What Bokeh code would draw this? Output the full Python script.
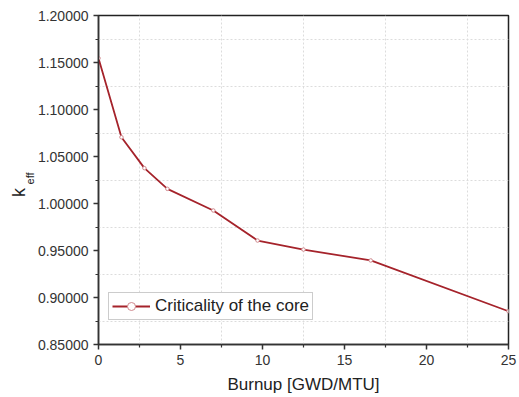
from bokeh.plotting import figure
from bokeh.models import (FixedTicker, PrintfTickFormatter, Legend, LegendItem,
                          Range1d, LinearAxis)
from bokeh.embed import file_html
from bokeh.resources import INLINE

burnup = [0.0, 1.4, 2.8, 4.2, 7.0, 9.7, 12.5, 16.6, 25.0]
keff = [1.1545, 1.0705, 1.0376, 1.0156, 0.9926, 0.9606, 0.9510, 0.9394, 0.8854]
series_name = "Criticality of the core"
x_title = "Burnup [GWD/MTU]"
x_major = [0, 5, 10, 15, 20, 25]
x_minor = [2.5, 7.5, 12.5, 17.5, 22.5]
y_major = [0.85, 0.90, 0.95, 1.00, 1.05, 1.10, 1.15, 1.20]
y_minor = [0.875, 0.925, 0.975, 1.025, 1.075, 1.125, 1.175]

NB = "\u00a0"

p = figure(width=519, height=397, output_backend="svg", toolbar_location=None,
           x_range=Range1d(0, 25), y_range=Range1d(0.85, 1.2),
           min_border_left=98, min_border_right=11, min_border_top=15, min_border_bottom=53,
           background_fill_color="white", border_fill_color="white")

xt = FixedTicker(ticks=x_major, minor_ticks=x_minor)
yt = FixedTicker(ticks=y_major, minor_ticks=y_minor)
p.xaxis.ticker = xt
p.yaxis.ticker = yt
p.xgrid.ticker = xt
p.ygrid.ticker = yt
p.yaxis.formatter = PrintfTickFormatter(format="%.5f")

for g in (p.xgrid, p.ygrid):
    g.grid_line_color = None
    g.minor_grid_line_color = "#dcdcdc"
    g.minor_grid_line_dash = "2 2"
    g.minor_grid_line_width = 1

for ax in (p.xaxis, p.yaxis):
    ax.axis_line_color = "#333333"
    ax.axis_line_width = 1.5
    ax.major_tick_line_color = "#333333"
    ax.minor_tick_line_color = "#333333"
    ax.major_tick_line_width = 1.5
    ax.minor_tick_line_width = 1.2
    ax.major_tick_in = 0
    ax.major_tick_out = 5
    ax.minor_tick_in = 0
    ax.minor_tick_out = 3
    ax.major_label_text_font = "Liberation Sans"
    ax.major_label_text_font_size = "14px"
    ax.major_label_text_color = "#333333"
    ax.major_label_standoff = 5

p.xaxis.axis_label = x_title
p.xaxis.axis_label_text_font = "Liberation Sans"
p.xaxis.axis_label_text_font_size = "17px"
p.xaxis.axis_label_text_font_style = "normal"
p.xaxis.axis_label_text_color = "#222222"
p.xaxis.axis_label_standoff = 7

p.outline_line_color = "#222222"
p.outline_line_width = 1.5


def label_axis(text, size, standoff):
    a = LinearAxis(ticker=FixedTicker(ticks=[]), axis_line_color=None,
                   major_tick_out=0, major_tick_in=0, minor_tick_out=0, minor_tick_in=0,
                   major_label_standoff=0, axis_label=text,
                   axis_label_text_font="Liberation Sans",
                   axis_label_text_font_size=size, axis_label_text_font_style="normal",
                   axis_label_text_color="#222222", axis_label_standoff=standoff)
    p.add_layout(a, "left")
    return a


label_axis(NB + "eff", "11px", -1)
label_axis("k" + NB * 5, "18px", -8)

line_r = p.line(burnup, keff, line_color="#a5232b", line_width=1.8)
pts_r = p.scatter(burnup, keff, marker="circle", size=3.5, fill_color="white",
                  line_color="#d08a8f", line_width=1)

legend = Legend(items=[LegendItem(label=series_name, renderers=[line_r, pts_r])],
                location=(10, 24), glyph_width=38, glyph_height=20, label_standoff=5,
                padding=3, margin=0, spacing=0,
                label_text_font="Liberation Sans", label_text_font_size="17px",
                label_text_color="#222222",
                border_line_color="#999999", border_line_width=1,
                background_fill_alpha=1.0)
p.add_layout(legend, "center")

open("out.html", "w").write(file_html(p, INLINE))
